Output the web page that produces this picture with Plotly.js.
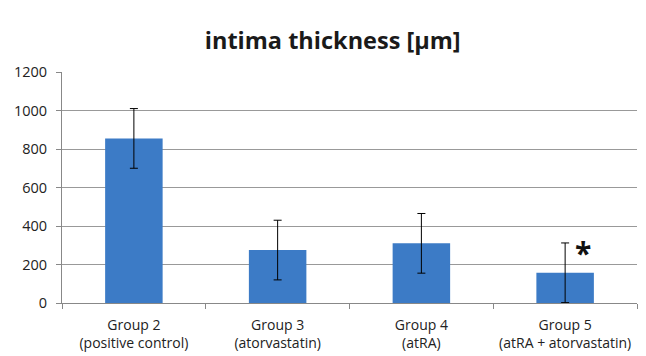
<!DOCTYPE html>
<html><head><meta charset="utf-8">
<script src="https://cdn.plot.ly/plotly-3.0.1.min.js"></script>
<style>html,body{margin:0;padding:0;background:#fff}#c{width:646px;height:356px}</style>
</head><body><div id="c"></div>
<script>
const categories = ["Group 2<br>(positive control)", "Group 3<br>(atorvastatin)", "Group 4<br>(atRA)", "Group 5<br>(atRA + atorvastatin)"];
const values = [855, 275, 310, 157];
const errors = [155, 155, 155, 155];
const yTicks = [0, 200, 400, 600, 800, 1000, 1200];
const markLabel = "*";
const markIndex = 3;

Plotly.newPlot('c', [{
  type: 'bar', x: categories, y: values,
  marker: {color: '#3c7bc6'},
  error_y: {type: 'data', array: errors, visible: true, color: '#000', thickness: 1, width: 4}
}], {
  width: 646, height: 356,
  margin: {l: 62, r: 9, t: 72, b: 53},
  paper_bgcolor: '#fff', plot_bgcolor: '#fff',
  bargap: 0.6,
  showlegend: false,
  title: {text: '<b>intima thickness [µm]</b>', x: 0.515, xanchor: 'center', y: 0.885, yanchor: 'middle',
    font: {family: 'Open Sans', size: 23.5, color: '#1a1a1a'}},
  xaxis: {type: 'category', tickson: 'boundaries', ticks: 'outside', ticklen: 5, tickcolor: '#888',
    tickangle: 0, ticklabelstandoff: 9, automargin: false,
    showline: true, linecolor: '#888', linewidth: 1, showgrid: false,
    tickfont: {family: 'Open Sans', size: 14, color: '#222'}},
  yaxis: {range: [0, 1200], tickvals: yTicks, ticks: 'outside', ticklen: 5, tickcolor: '#888',
    ticklabelstandoff: 6,
    showline: true, linecolor: '#888', gridcolor: '#999', gridwidth: 1, zeroline: false,
    tickfont: {family: 'Open Sans', size: 14.5, color: '#222'}},
  annotations: [{x: categories[markIndex], y: values[markIndex] + errors[markIndex], text: '<b>' + markLabel + '</b>',
    showarrow: false, xshift: 18, yshift: -10, font: {family: 'Open Sans', size: 30, color: '#111'}}]
}, {displayModeBar: false, staticPlot: true});
</script></body></html>
